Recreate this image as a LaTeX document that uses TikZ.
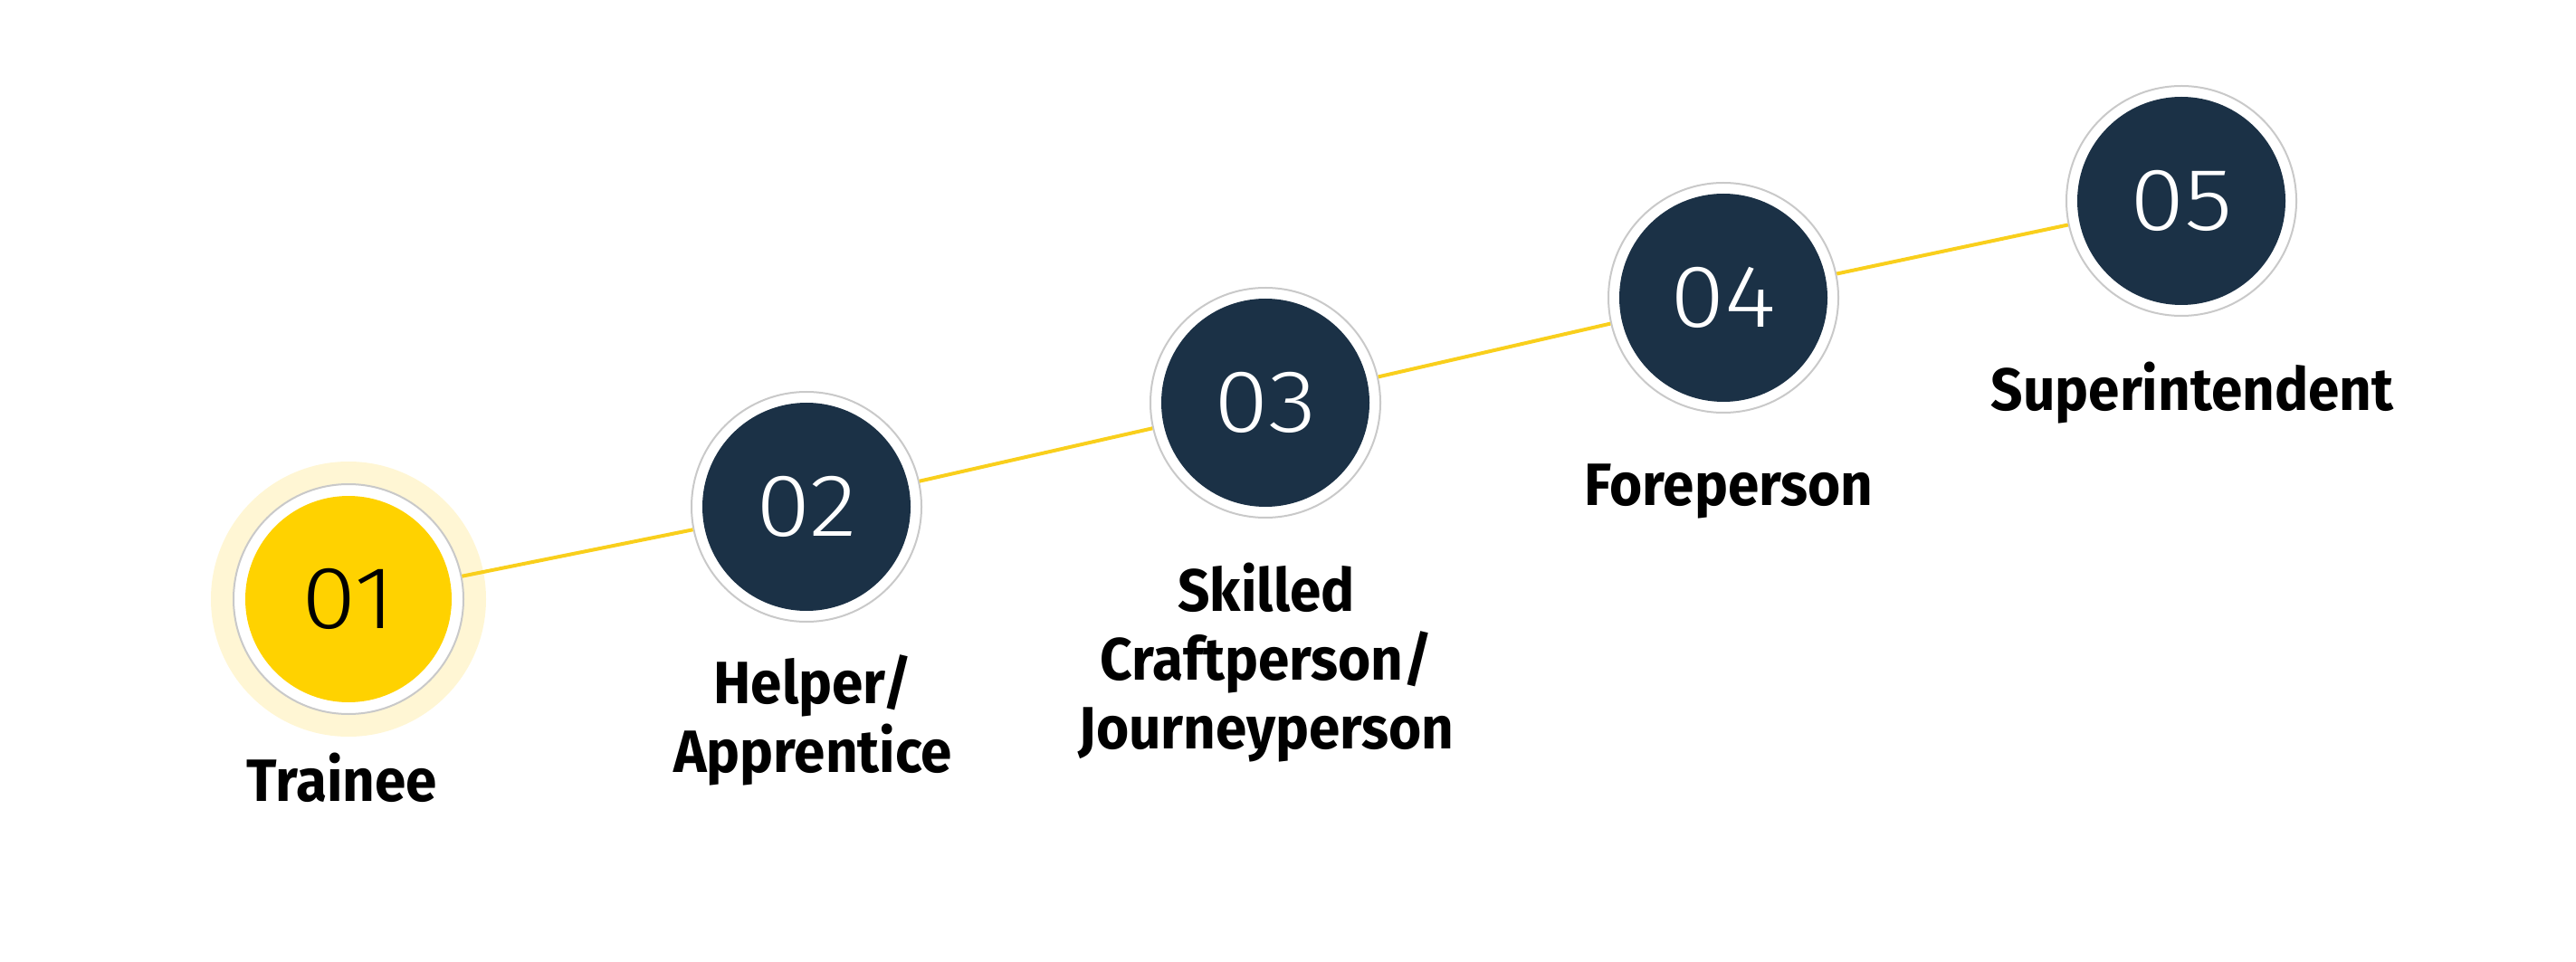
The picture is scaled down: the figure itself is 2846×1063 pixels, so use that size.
\documentclass[tikz,border=0pt]{standalone}
\usepackage{fontspec}
\setmainfont{Fira Sans}
\newfontfamily\lblfont[FakeStretch=0.94]{Fira Sans Bold}
\newfontfamily\numfont[FakeStretch=1.12]{Fira Sans Light}
\definecolor{gold}{HTML}{FFD200}
\definecolor{halo}{HTML}{FFF6D4}
\definecolor{navy}{HTML}{1B3146}
\definecolor{ringgray}{HTML}{C9C9C9}
\definecolor{linegold}{HTML}{F9CF1C}
\tikzset{
  ring/.style={circle, draw=ringgray, line width=1pt, fill=white, minimum size=127pt, inner sep=0pt},
  haloc/.style={circle, fill=halo, minimum size=152pt, inner sep=0pt},
  innery/.style={circle, fill=gold, minimum size=114pt, inner sep=0pt, text=black, font=\numfont\fontsize{49}{49}\selectfont},
  innern/.style={circle, fill=navy, minimum size=115pt, inner sep=0pt, text=white, font=\numfont\fontsize{49}{49}\selectfont},
  conn/.style={draw=linegold, line width=2pt},
  lbl/.style={align=center, anchor=base, inner sep=0pt, font=\lblfont\fontsize{33}{38}\selectfont}
}
\begin{document}
\begin{tikzpicture}[x=0.5pt, y=-0.5pt]
\useasboundingbox (0,0) rectangle (2846,1063);
\node[haloc] (h1) at (385,662) {};
\node[ring] (n1) at (385,662) {};
\node[ring] (n2) at (891,560) {};
\node[ring] (n3) at (1398,445) {};
\node[ring] (n4) at (1904,329) {};
\node[ring] (n5) at (2410,222) {};
\draw[conn] (n1) -- (n2);
\draw[conn] (n2) -- (n3);
\draw[conn] (n3) -- (n4);
\draw[conn] (n4) -- (n5);
\node[innery] (i1) at (n1) {01};
\node[innern] (i2) at (n2) {02};
\node[innern] (i3) at (n3) {03};
\node[innern] (i4) at (n4) {04};
\node[innern] (i5) at (n5) {05};
\node[lbl] (l1) at (378,885) {Trainee};
\node[lbl] (l2) at (898,853) {Helper/\\Apprentice};
\node[lbl] (l3) at (1399,827) {Skilled\\Craftperson/\\Journeyperson};
\node[lbl] (l4) at (1910,558) {Foreperson};
\node[lbl] (l5) at (2422,454) {Superintendent};
\end{tikzpicture}
\end{document}
